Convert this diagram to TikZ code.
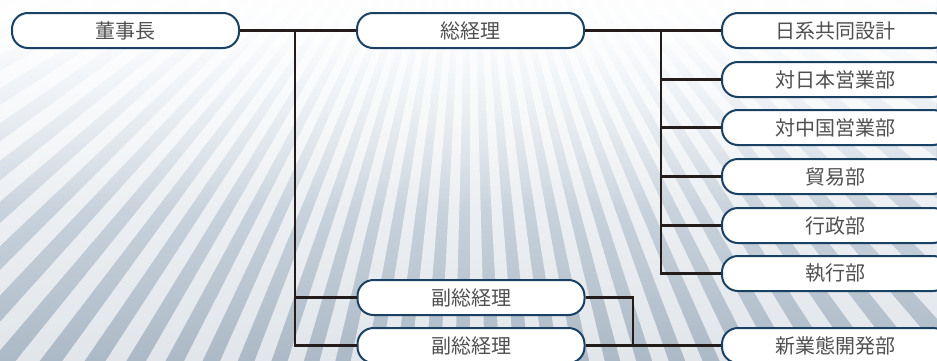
\documentclass[tikz,border=0pt]{standalone}
\usepackage{fontspec}
\newfontfamily\cjk{Noto Sans CJK JP}
\usetikzlibrary{fadings}
\definecolor{boxline}{RGB}{25,65,100}
\definecolor{connc}{RGB}{35,28,26}
\definecolor{txt}{RGB}{80,80,80}
\definecolor{bgtop}{RGB}{240,245,250}
\definecolor{bgbot}{RGB}{172,185,198}
\tikzfading[name=fadetop, top color=transparent!10, bottom color=transparent!100]
\begin{document}
\begin{tikzpicture}[x=1pt,y=1pt,
 orgbox/.style={draw=boxline, line width=2pt, fill=white, rounded corners=16pt, minimum width=227pt, minimum height=35pt, inner sep=0pt, font=\cjk\fontsize{20}{24}\selectfont, text=txt},
 orgline/.style={draw=connc, line width=2.5pt}]
\useasboundingbox (0,0) rectangle (937,360);
\begin{scope}
\clip (0,0) rectangle (937,360);
\shade[top color=bgtop, bottom color=bgbot] (0,0) rectangle (937,360);
\foreach \a in {180,183,...,357} \fill[white,opacity=0.65] (470,560) -- +(\a:1500) -- +(\a+1.5:1500) -- cycle;
\fill[white, path fading=fadetop] (0,150) rectangle (937,360);

\node[orgbox] (dsz) at (125.5,329.5) {董事長};
\node[orgbox] (zjl) at (470.5,329.5) {総経理};
\node[orgbox] (r1) at (835.5,329.5) {日系共同設計};
\node[orgbox] (r2) at (835.5,280.5) {対日本営業部};
\node[orgbox] (r3) at (835.5,232.5) {対中国営業部};
\node[orgbox] (r4) at (835.5,183.5) {貿易部};
\node[orgbox] (r5) at (835.5,134.5) {行政部};
\node[orgbox] (r6) at (835.5,86.5) {執行部};
\node[orgbox] (r7) at (835.5,14.5) {新業態開発部};
\node[orgbox] (fz1) at (471,62.5) {副総経理};
\node[orgbox] (fz2) at (471,14.5) {副総経理};

\coordinate (v1) at (295,329.5);
\coordinate (v2) at (661,329.5);
\coordinate (j) at (633,14.5);
\draw[orgline] (dsz.east) -- (zjl.west);
\draw[orgline] (v1) |- (fz1.west);
\draw[orgline] (v1) |- (fz2.west);
\draw[orgline] (zjl.east) -- (r1.west);
\draw[orgline] (v2) |- (r2.west);
\draw[orgline] (v2) |- (r3.west);
\draw[orgline] (v2) |- (r4.west);
\draw[orgline] (v2) |- (r5.west);
\draw[orgline] (v2) |- (r6.west);
\draw[orgline] (fz1.east) -| (j);
\draw[orgline] (fz2.east) -- (r7.west);
\end{scope}
\end{tikzpicture}
\end{document}
